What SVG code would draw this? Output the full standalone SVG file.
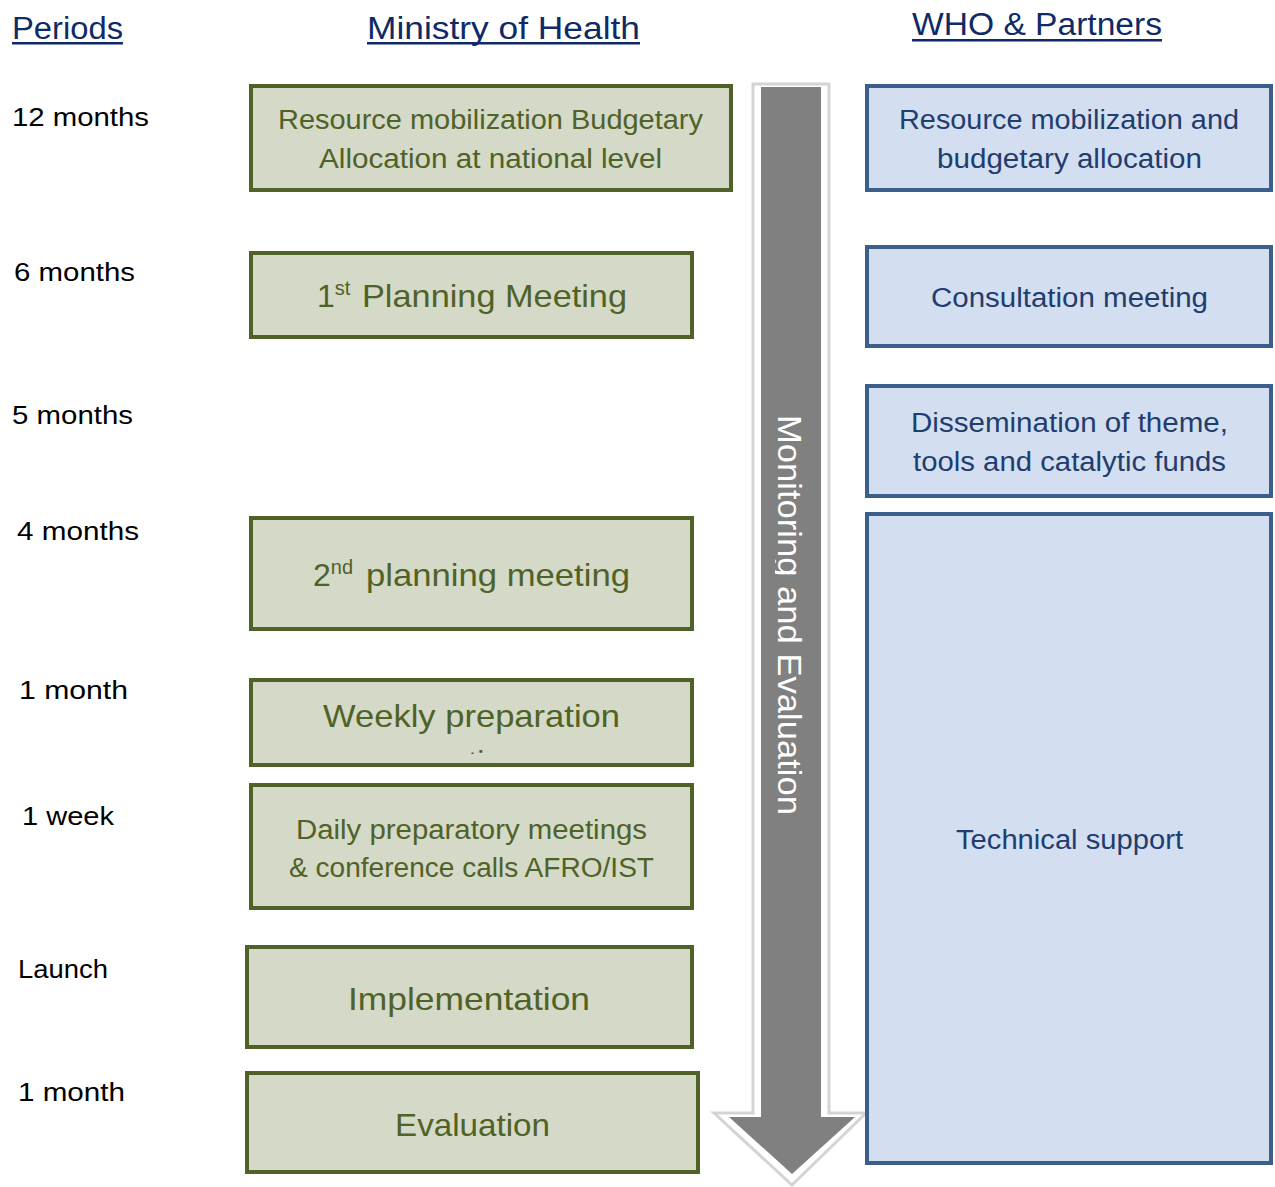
<svg xmlns="http://www.w3.org/2000/svg" width="1275" height="1187" viewBox="0 0 1275 1187">
<style>
  text { font-family: "Liberation Sans", Arial, sans-serif; }
  .hdr { font-size: 31px; fill: #0f2a66; }
  .ul { fill: #0f2a66; }
  .per { font-size: 26px; fill: #000; }
  .gbox { fill: #d5d9c7; stroke: #4f6228; stroke-width: 4; }
  .bbox { fill: #d3dff0; stroke: #3b5e8c; stroke-width: 4; }
  .gt { font-size: 27px; fill: #4f6228; }
  .gtl { font-size: 32px; fill: #4f6228; }
  .sup { font-size: 20px; }
  .bt { font-size: 27px; fill: #1f3d6e; }
  .vt { font-size: 34px; fill: #ffffff; }
</style>
<defs>
  <clipPath id="clipWeekly"><rect x="252" y="681" width="439" height="73"/></clipPath>
  <clipPath id="clipShaft"><rect x="775" y="87" width="46" height="1030"/></clipPath>
</defs>

<g id="headers">
  <text class="hdr" x="12" y="39" textLength="111" lengthAdjust="spacingAndGlyphs">Periods</text>
  <rect class="ul" x="12" y="42" width="111" height="2.5"/>
  <text class="hdr" x="367" y="39" textLength="273" lengthAdjust="spacingAndGlyphs">Ministry of Health</text>
  <rect class="ul" x="367" y="42" width="273" height="2.5"/>
  <text class="hdr" x="912" y="35" textLength="250" lengthAdjust="spacingAndGlyphs">WHO &amp; Partners</text>
  <rect class="ul" x="912" y="39" width="250" height="2.5"/>
</g>

<g id="periods">
  <text class="per" x="12" y="126" textLength="137" lengthAdjust="spacingAndGlyphs">12 months</text>
  <text class="per" x="14" y="281" textLength="121" lengthAdjust="spacingAndGlyphs">6 months</text>
  <text class="per" x="12" y="424" textLength="121" lengthAdjust="spacingAndGlyphs">5 months</text>
  <text class="per" x="17" y="540" textLength="122" lengthAdjust="spacingAndGlyphs">4 months</text>
  <text class="per" x="19" y="699" textLength="109" lengthAdjust="spacingAndGlyphs">1 month</text>
  <text class="per" x="22" y="825" textLength="92" lengthAdjust="spacingAndGlyphs">1 week</text>
  <text class="per" x="18" y="978" textLength="90" lengthAdjust="spacingAndGlyphs">Launch</text>
  <text class="per" x="18" y="1101" textLength="107" lengthAdjust="spacingAndGlyphs">1 month</text>
</g>

<g id="connectors">
  <g id="me-arrow">
    <polygon points="753,84 829,84 829,1113 866,1113 792,1185 714,1113 753,1113" fill="#ffffff" stroke="#d4d4d4" stroke-width="3"/>
    <polygon points="761,87 821,87 821,1117 855,1117 792,1174 729,1117 761,1117" fill="#808080"/>
    <g clip-path="url(#clipShaft)">
      <text class="vt" transform="translate(778,415) rotate(90)" x="0" y="0" textLength="400" lengthAdjust="spacingAndGlyphs">Monitoring and Evaluation</text>
    </g>
  </g>
</g>

<g id="moh-resource">
  <rect class="gbox" x="251" y="86" width="480" height="104"/>
  <text class="gt" x="278" y="129" textLength="425" lengthAdjust="spacingAndGlyphs">Resource mobilization Budgetary</text>
  <text class="gt" x="319" y="168" textLength="343" lengthAdjust="spacingAndGlyphs">Allocation at national level</text>
</g>
<g id="moh-planning1">
  <rect class="gbox" x="251" y="253" width="441" height="84"/>
  <text class="gtl" x="317" y="307">1<tspan class="sup" dy="-12">st</tspan><tspan dy="12" x="362" textLength="265" lengthAdjust="spacingAndGlyphs">Planning Meeting</tspan></text>
</g>
<g id="moh-planning2">
  <rect class="gbox" x="251" y="518" width="441" height="111"/>
  <text class="gtl" x="313" y="586">2<tspan class="sup" dy="-12">nd</tspan><tspan dy="12" x="366" textLength="264" lengthAdjust="spacingAndGlyphs">planning meeting</tspan></text>
</g>
<g id="moh-weekly">
  <rect class="gbox" x="251" y="680" width="441" height="85"/>
  <text class="gtl" x="323" y="727" textLength="297" lengthAdjust="spacingAndGlyphs">Weekly preparation</text>
  <g clip-path="url(#clipWeekly)">
    <text class="gtl" x="471" y="773" text-anchor="middle">meetings</text>
  </g>
</g>
<g id="moh-daily">
  <rect class="gbox" x="251" y="785" width="441" height="123"/>
  <text class="gt" x="296" y="839" textLength="351" lengthAdjust="spacingAndGlyphs">Daily preparatory meetings</text>
  <text class="gt" x="289" y="877" textLength="365" lengthAdjust="spacingAndGlyphs">&amp; conference calls AFRO/IST</text>
</g>
<g id="moh-implementation">
  <rect class="gbox" x="247" y="947" width="445" height="100"/>
  <text class="gtl" x="348" y="1010" textLength="242" lengthAdjust="spacingAndGlyphs">Implementation</text>
</g>
<g id="moh-evaluation">
  <rect class="gbox" x="247" y="1073" width="451" height="99"/>
  <text class="gtl" x="395" y="1136" textLength="155" lengthAdjust="spacingAndGlyphs">Evaluation</text>
</g>

<g id="who-resource">
  <rect class="bbox" x="867" y="86" width="404" height="104"/>
  <text class="bt" x="899" y="129" textLength="340" lengthAdjust="spacingAndGlyphs">Resource mobilization and</text>
  <text class="bt" x="937" y="168" textLength="265" lengthAdjust="spacingAndGlyphs">budgetary allocation</text>
</g>
<g id="who-consultation">
  <rect class="bbox" x="867" y="247" width="404" height="99"/>
  <text class="bt" x="931" y="307" textLength="277" lengthAdjust="spacingAndGlyphs">Consultation meeting</text>
</g>
<g id="who-dissemination">
  <rect class="bbox" x="867" y="386" width="404" height="110"/>
  <text class="bt" x="911" y="432" textLength="317" lengthAdjust="spacingAndGlyphs">Dissemination of theme,</text>
  <text class="bt" x="913" y="471" textLength="313" lengthAdjust="spacingAndGlyphs">tools and catalytic funds</text>
</g>
<g id="who-technical">
  <rect class="bbox" x="867" y="514" width="404" height="649"/>
  <text class="bt" x="956" y="849" textLength="227" lengthAdjust="spacingAndGlyphs">Technical support</text>
</g>
</svg>
